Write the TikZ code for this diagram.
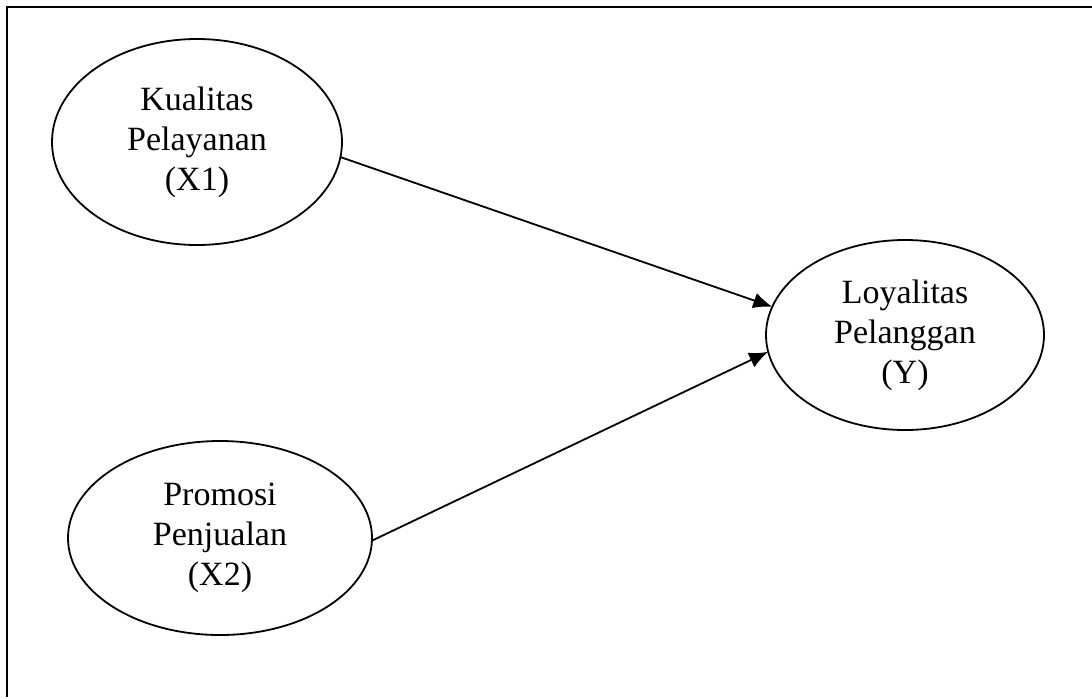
\documentclass[tikz,border=0pt]{standalone}
\usepackage{fontspec}
\setmainfont{Liberation Serif}
\usetikzlibrary{shapes.geometric,arrows.meta}
\tikzset{
    variabel/.style={draw, ellipse, line width=0.9pt, outer sep=0pt, inner sep=0pt, align=center,
        font=\fontsize{17}{20}\selectfont},
    panah/.style={line width=0.9pt, -{Latex[length=9.5pt,width=8pt]}}
}
\begin{document}
\begin{tikzpicture}[x=0.5pt, y=-0.5pt]
    \useasboundingbox (0,0) rectangle (1092,697);
    %bingkai
    \draw[line width=1.2pt](7,697)--(7,7)--(1092,7);
    %variabel X1
    \node[variabel, minimum width=145pt, minimum height=103pt] (kualitas) at (197,142) {Kualitas\\Pelayanan\\(X1)};
    %variabel X2
    \node[variabel, minimum width=152pt, minimum height=97pt] (promosi) at (220,538) {Promosi\\Penjualan\\(X2)};
    %variabel Y
    \node[variabel, minimum width=139pt, minimum height=95pt] (loyalitas) at (905,335) {Loyalitas\\Pelanggan\\(Y)};
    %panah
    \draw[panah](kualitas.-6)--(loyalitas.168);
    \draw[panah](promosi.-1)--(loyalitas.187);
\end{tikzpicture}
\end{document}
